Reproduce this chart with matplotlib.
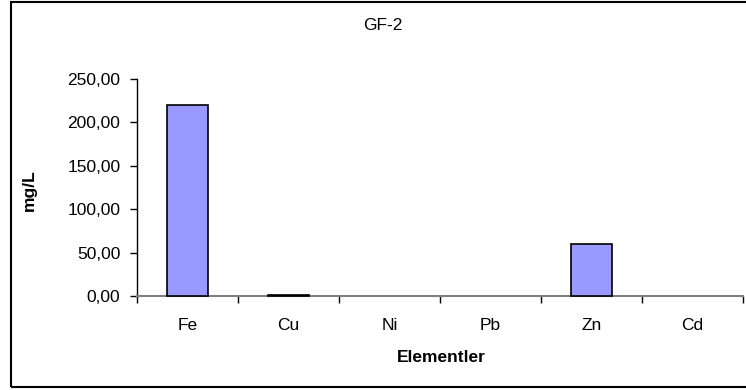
import matplotlib
matplotlib.use("Agg")
import matplotlib.pyplot as plt
from matplotlib.patches import Rectangle
from matplotlib.ticker import FuncFormatter
import numpy as np

elements = ["Fe", "Cu", "Ni", "Pb", "Zn", "Cd"]
values = [220.0, 1.5, 0.0, 0.0, 60.0, 0.0]
yticks = [0, 50, 100, 150, 200, 250]

plt.rcParams["font.family"] = ["Liberation Sans", "DejaVu Sans"]

W, H = 746, 390
fig = plt.figure(figsize=(W / 100, H / 100), dpi=100)
ax = fig.add_axes([137 / W, 1 - 296 / H, (743 - 137) / W, (296 - 79) / H])

x = np.arange(len(elements))
# zero-height bars get no outline (otherwise a black stub shows on the axis)
edge_w = [1.2 if v > 0 else 0 for v in values]
ax.bar(x, values, width=0.41, color="#9999ff", edgecolor="black", linewidth=edge_w,
       zorder=3, clip_on=False)

ax.set_xlim(-0.5, len(elements) - 0.5)
ax.set_ylim(0, 250)
ax.set_yticks(yticks)
ax.yaxis.set_major_formatter(FuncFormatter(lambda v, p: f"{v:.2f}".replace(".", ",")))
ax.set_xticks(x)
ax.set_xticklabels(elements)
ax.set_xticks(np.arange(-0.5, len(elements)), minor=True)
ax.tick_params(axis="x", which="major", length=0, pad=16, labelsize=12.5)
ax.tick_params(axis="x", which="minor", length=5, width=1, color="black", direction="out")
ax.tick_params(axis="y", length=5, width=1, direction="out", labelsize=12.5, pad=7)

for s in ["top", "right"]:
    ax.spines[s].set_visible(False)
ax.spines["bottom"].set_color("#808080")
ax.spines["bottom"].set_linewidth(1.5)
ax.spines["left"].set_linewidth(1.0)

fig.text(383 / W, 1 - 25 / H, "GF-2", ha="center", va="center", fontsize=12.5)
fig.text(441 / W, 1 - 358 / H, "Elementler", ha="center", va="center", fontsize=12.5, fontweight="bold")
fig.text(29 / W, 1 - 190 / H, "mg/L", ha="center", va="center", rotation=90, fontsize=12.5, fontweight="bold")

fig.patches.append(Rectangle((11 / W, 3 / H), 1.2, 385 / H, transform=fig.transFigure,
                             fill=False, edgecolor="black", linewidth=1.5))

fig.savefig("out.png", dpi=100)
